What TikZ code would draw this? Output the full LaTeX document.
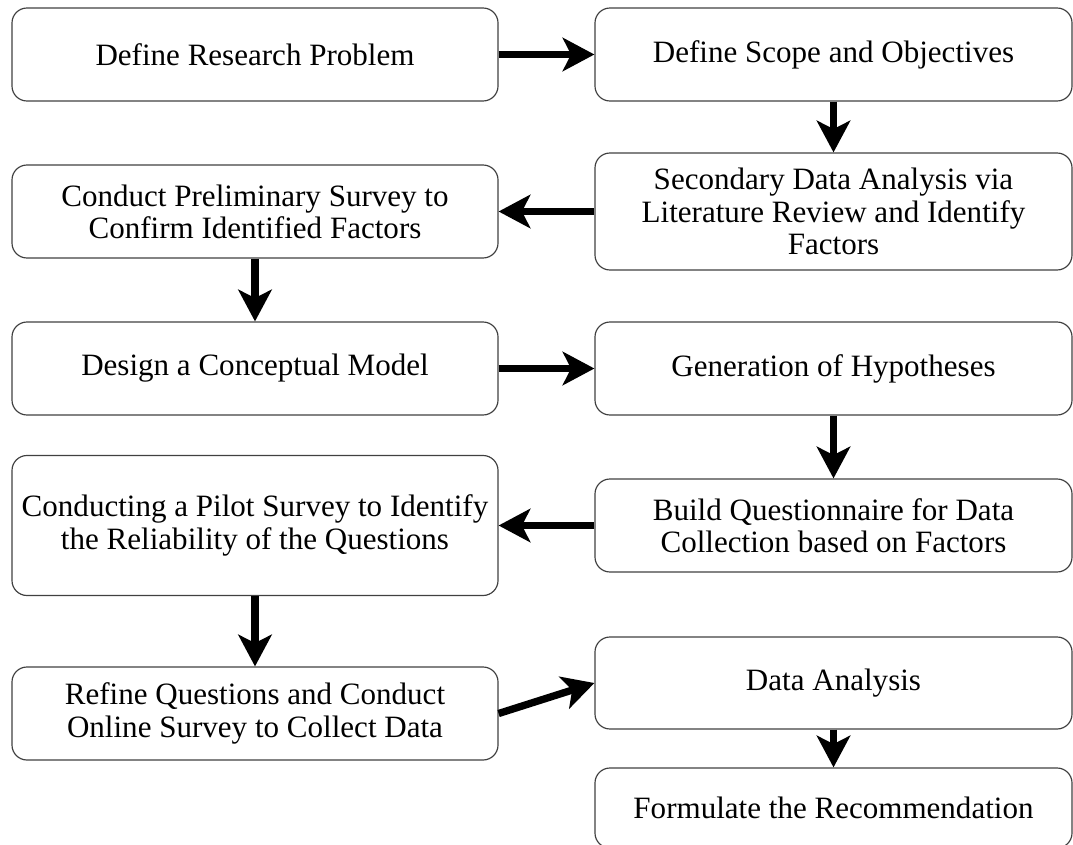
\documentclass[tikz,border=0pt]{standalone}
\usepackage{fontspec}
\setmainfont{Liberation Serif}
\usetikzlibrary{
  arrows.meta,
  positioning
}
\tikzset{
  procbox/.style={draw=black!75, line width=1pt, rounded corners=0.45cm,
    align=center, inner sep=0pt, font=\fontsize{26.5}{27.5}\selectfont},
  leftbox/.style={procbox, minimum width=14.58cm},
  rightbox/.style={procbox, minimum width=14.31cm},
  flow/.style={-{Stealth[length=0.95cm,width=1cm,inset=0.25cm]},
    line width=0.22cm}
}

\begin{document}
\begin{tikzpicture}[x=0.03cm, y=-0.03cm]
            \clip (0, 0) rectangle (1073, 844);

            \node[leftbox, minimum height=2.79cm] (problem) at (255, 54.5)
            {Define Research Problem};
            \node[rightbox, minimum height=2.79cm] (scope) at (833.5, 54.5)
            {Define Scope and Objectives};
            \node[rightbox, minimum height=3.51cm] (litreview) at (833.5, 211.5)
            {Secondary Data Analysis via\\Literature Review and Identify\\Factors};
            \node[leftbox, minimum height=2.79cm] (prelim) at (255, 211.5)
            {Conduct Preliminary Survey to\\Confirm Identified Factors};

            \node[leftbox, minimum height=2.79cm] (model) at (255, 368.5)
            {Design a Conceptual Model};
            \node[rightbox, minimum height=2.79cm] (hypo) at (833.5, 368.5)
            {Generation of Hypotheses};
            \node[rightbox, minimum height=2.79cm] (questionnaire) at (833.5, 525.5)
            {Build Questionnaire for Data\\Collection based on Factors};
            \node[leftbox, minimum height=4.2cm] (pilot) at (255, 525.5)
            {Conducting a Pilot Survey to Identify\\the Reliability of the Questions};

            \node[leftbox, minimum height=2.79cm] (online) at (255, 713.5)
            {Refine Questions and Conduct\\Online Survey to Collect Data};
            \node[rightbox, minimum height=2.76cm] (analysis) at (833.5, 683)
            {Data Analysis};
            \node[rightbox, minimum height=2.4cm] (recommend) at (833.5, 808)
            {Formulate the Recommendation};

            \draw[flow] (problem) -- (scope);
            \draw[flow] (scope) -- (litreview);
            \draw[flow] (litreview) -- (prelim);
            \draw[flow] (prelim) -- (model);
            \draw[flow] (model) -- (hypo);
            \draw[flow] (hypo) -- (questionnaire);
            \draw[flow] (questionnaire) -- (pilot);
            \draw[flow] (pilot) -- (online);
            \draw[flow] (online.east) -- (analysis.west);
            \draw[flow] (analysis) -- (recommend);
          \end{tikzpicture}
\end{document}
